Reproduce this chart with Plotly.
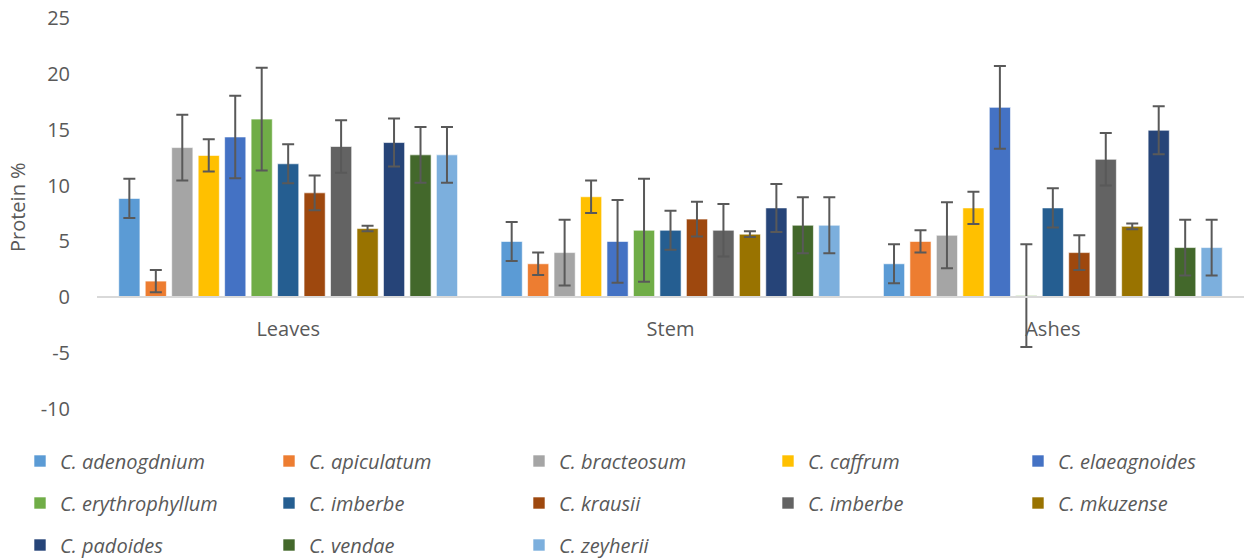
import plotly.graph_objects as go

# Plant parts on the category axis
categories = ["Leaves", "Stem", "Ashes"]

# Combretum species (legend order)
species = [
    "C. adenogdnium", "C. apiculatum", "C. bracteosum", "C. caffrum",
    "C. elaeagnoides", "C. erythrophyllum", "C. imberbe", "C. krausii",
    "C. imberbe", "C. mkuzense", "C. padoides", "C. vendae", "C. zeyherii",
]

# Protein % per species for each plant part
leaves = [8.85, 1.45, 13.4, 12.7, 14.35, 15.95, 11.95, 9.35, 13.5, 6.15, 13.85, 12.75, 12.75]
stem = [5.0, 3.0, 4.0, 9.0, 5.0, 6.0, 6.0, 7.0, 6.0, 5.65, 8.0, 6.45, 6.45]
ashes = [3.0, 5.0, 5.55, 8.0, 17.0, 0.15, 8.0, 4.0, 12.35, 6.35, 14.95, 4.45, 4.45]

# Standard deviation per species (same for every plant part)
sd = [1.75, 1.0, 2.95, 1.45, 3.7, 4.6, 1.75, 1.55, 2.35, 0.25, 2.15, 2.5, 2.5]

# Y-axis ticks
y_ticks = [-10, -5, 0, 5, 10, 15, 20, 25]
y_tick_labels = ["-10", "-5", "0", "5", "10", "15", "20", "25"]

colors = [
    "#5B9BD5", "#ED7D31", "#A5A5A5", "#FFC000", "#4472C4", "#70AD47",
    "#255E91", "#9E480E", "#636363", "#997300", "#264478", "#43682B", "#7CAFDD",
]

TEXT = "#595959"
FONT = "Open Sans"
W, H = 1249, 560
ML, MR, MT, MB = 97, 5, 18, 151

# Legend grid: 5 columns x 3 rows, one small legend per entry
col_x = [20, 269, 519, 768, 1018]
row_y = [461, 503, 545]

fig = go.Figure()
layout_legends = {}
for i, name in enumerate(species):
    key = "legend" if i == 0 else f"legend{i + 1}"
    fig.add_trace(go.Bar(
        x=categories,
        y=[leaves[i], stem[i], ashes[i]],
        name=name,
        marker=dict(color=colors[i], line=dict(color="rgba(255,255,255,0.6)", width=1)),
        error_y=dict(type="data", array=[sd[i]] * 3, visible=True,
                     color=TEXT, thickness=2, width=6),
        legend=key,
    ))
    r, c = divmod(i, 5)
    layout_legends[key] = dict(
        xref="container", yref="container",
        x=col_x[c] / W, y=1 - row_y[r] / H,
        xanchor="left", yanchor="middle",
        font=dict(family=FONT, size=20, color=TEXT, style="italic"),
        bgcolor="rgba(0,0,0,0)", itemclick=False, itemdoubleclick=False,
    )

plot_w = W - ML - MR
plot_h = H - MT - MB

fig.update_layout(
    width=W, height=H,
    margin=dict(l=ML, r=MR, t=MT, b=MB, autoexpand=False),
    paper_bgcolor="white", plot_bgcolor="white",
    barmode="group", bargap=0.10, bargroupgap=0.2,
    font=dict(family=FONT, color=TEXT),
    showlegend=True,
    xaxis=dict(
        anchor="free", position=10 / 35,
        showline=True, linecolor="#D9D9D9", linewidth=2,
        ticks="outside", ticklen=14, tickcolor="rgba(0,0,0,0)", showgrid=False,
        tickfont=dict(family=FONT, size=20, color=TEXT),
    ),
    yaxis=dict(
        range=[-10, 25], tickmode="array", tickvals=y_ticks, ticktext=y_tick_labels,
        showgrid=False, zeroline=False, showline=False,
        ticks="outside", ticklen=22, tickcolor="rgba(0,0,0,0)",
        tickfont=dict(family=FONT, size=20, color=TEXT),
    ),
    annotations=[dict(
        text="Protein %", textangle=-90, showarrow=False,
        xref="paper", yref="paper",
        x=(17 - ML) / plot_w, y=(H - MB - 207) / plot_h,
        xanchor="center", yanchor="middle",
        font=dict(family=FONT, size=20, color=TEXT),
    )],
    **layout_legends,
)

fig.write_html("out.html")
